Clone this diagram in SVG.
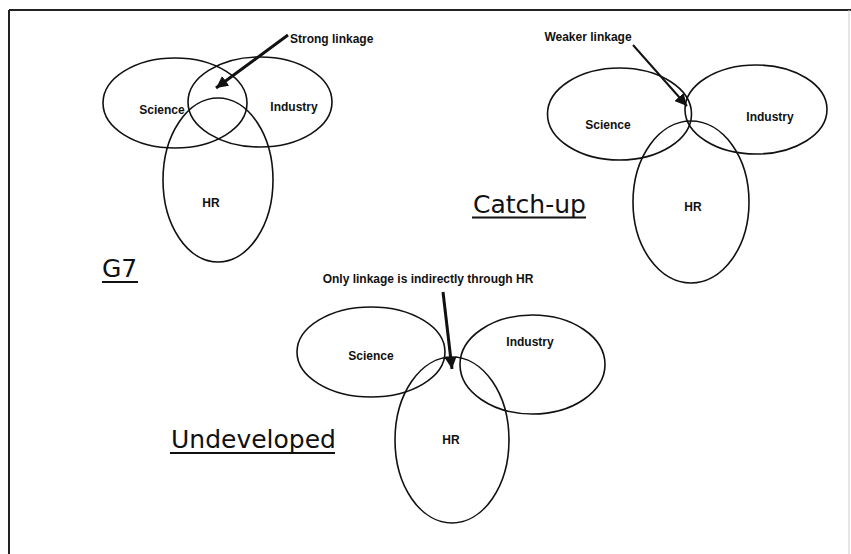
<svg xmlns="http://www.w3.org/2000/svg" width="851" height="554" viewBox="0 0 851 554">
<style>
.e{fill:none;stroke:#111;stroke-width:1.6}
.l{font-family:"Liberation Sans",Arial,sans-serif;font-weight:bold;font-size:12px;fill:#111}
.t{font-family:"DejaVu Sans",sans-serif;font-size:25px;fill:#111}
.u{stroke:#111;stroke-width:2.2}
.a{stroke:#111;fill:none}
.frame{stroke:#222;fill:none}
</style>
<defs>
<marker id="ah" markerUnits="userSpaceOnUse" markerWidth="14" markerHeight="12" refX="12" refY="6" orient="auto">
<path d="M0,0 L12,6 L0,12 Z" fill="#111"/>
</marker>
</defs>
<g id="frame">
<line class="frame" x1="9" y1="10" x2="851" y2="10" stroke-width="2"/>
<line class="frame" x1="9" y1="10" x2="9" y2="554" stroke-width="2"/>
<line x1="849" y1="10" x2="849" y2="554" stroke="#ccc" stroke-width="1"/>
</g>
<g id="connectors">
<line class="a" x1="288" y1="35" x2="216" y2="88" stroke-width="3" marker-end="url(#ah)"/>
<line class="a" x1="633" y1="45" x2="687" y2="106" stroke-width="2" marker-end="url(#ah)"/>
<line class="a" x1="443" y1="292" x2="452" y2="369" stroke-width="3" marker-end="url(#ah)"/>
</g>
<g id="g7-science"><ellipse class="e" cx="175" cy="103" rx="72" ry="45"/><text class="l" x="162" y="114" text-anchor="middle">Science</text></g>
<g id="g7-industry"><ellipse class="e" cx="260" cy="102" rx="72" ry="45"/><text class="l" x="294" y="111" text-anchor="middle">Industry</text></g>
<g id="g7-hr"><ellipse class="e" cx="218" cy="180" rx="55" ry="82"/><text class="l" x="211" y="207" text-anchor="middle">HR</text></g>
<g id="g7-label"><text class="t" x="102" y="277">G7</text><line class="u" x1="102" y1="282" x2="138" y2="282"/></g>
<g id="strong-label"><text class="l" x="290" y="43">Strong linkage</text></g>

<g id="cu-science"><ellipse class="e" cx="619.5" cy="114" rx="72" ry="46"/><text class="l" x="608" y="129" text-anchor="middle">Science</text></g>
<g id="cu-industry"><ellipse class="e" cx="756" cy="109.5" rx="71" ry="44.5"/><text class="l" x="770" y="121" text-anchor="middle">Industry</text></g>
<g id="cu-hr"><ellipse class="e" cx="691" cy="202" rx="58" ry="81"/><text class="l" x="693" y="211" text-anchor="middle">HR</text></g>
<g id="cu-label"><text class="t" x="473" y="213">Catch-up</text><line class="u" x1="472" y1="217.5" x2="586" y2="217.5"/></g>
<g id="weaker-label"><text class="l" x="588" y="41" text-anchor="middle">Weaker linkage</text></g>

<g id="un-science"><ellipse class="e" cx="371" cy="352" rx="74" ry="45"/><text class="l" x="371" y="360" text-anchor="middle">Science</text></g>
<g id="un-industry"><ellipse class="e" cx="532.5" cy="364.5" rx="72.5" ry="49.5"/><text class="l" x="530" y="346" text-anchor="middle">Industry</text></g>
<g id="un-hr"><ellipse class="e" cx="452" cy="440" rx="57" ry="83"/><text class="l" x="451" y="444" text-anchor="middle">HR</text></g>
<g id="un-label"><text class="t" x="171" y="448">Undeveloped</text><line class="u" x1="170" y1="453" x2="335" y2="453"/></g>
<g id="only-label"><text class="l" x="428" y="283" text-anchor="middle">Only linkage is indirectly through HR</text></g>
</svg>
